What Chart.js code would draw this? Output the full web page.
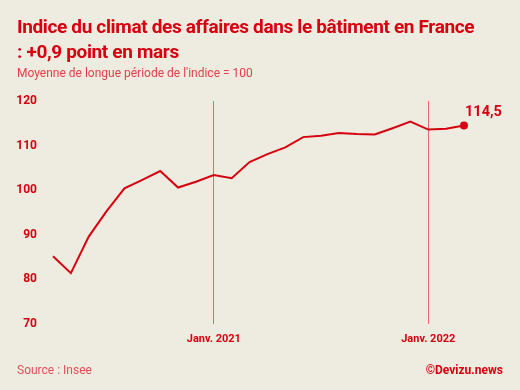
<!DOCTYPE html>
<html>
<head>
<meta charset="utf-8">
<script src="https://cdn.jsdelivr.net/npm/chart.js@4"></script>
<style>
  html, body { margin: 0; padding: 0; background: #eeebe0; }
  #wrap { position: relative; width: 520px; height: 390px; background: #eeebe0; overflow: hidden; font-family: Roboto, "Noto Sans", sans-serif; }
  canvas { position: absolute; left: 0; top: 0; }
  .t { position: absolute; left: 17px; color: #d7000f; font-weight: 700; font-size: 19px; line-height: 24px; white-space: nowrap; letter-spacing: -0.35px; }
  #sub { position: absolute; left: 17px; top: 66px; color: #e0404a; font-size: 12px; line-height: 14px; white-space: nowrap; }
  #src { position: absolute; left: 17px; top: 363px; color: #e0505a; font-size: 12px; line-height: 14px; }
  #cr { position: absolute; right: 17px; top: 363px; color: #d7000f; font-size: 12px; font-weight: 700; line-height: 14px; }
</style>
</head>
<body>
<div id="wrap">
  <canvas id="c" width="520" height="390"></canvas>
  <div class="t" style="top:15px">Indice du climat des affaires dans le bâtiment en France</div>
  <div class="t" style="top:40px">: +0,9 point en mars</div>
  <div id="sub">Moyenne de longue période de l'indice = 100</div>
  <div id="src">Source : Insee</div>
  <div id="cr">©Devizu.news</div>
</div>
<script>
const months = ["Avr. 2020","Mai 2020","Juin 2020","Juil. 2020","Août 2020","Sept. 2020","Oct. 2020","Nov. 2020","Déc. 2020",
  "Janv. 2021","Févr. 2021","Mars 2021","Avr. 2021","Mai 2021","Juin 2021","Juil. 2021","Août 2021","Sept. 2021","Oct. 2021","Nov. 2021","Déc. 2021",
  "Janv. 2022","Févr. 2022","Mars 2022"];
const indexValues = [85.2, 81.4, 89.6, 95.3, 100.4, 102.3, 104.3, 100.6, 101.9,
  103.4, 102.7, 106.3, 108.1, 109.6, 111.9, 112.2, 112.8, 112.6, 112.5, 113.9, 115.4,
  113.6, 113.8, 114.5];
const yTicks = [70, 80, 90, 100, 110, 120];
const lastLabel = "114,5";

const RED = "#d7000f";

const lastLabelPlugin = {
  id: "lastLabel",
  afterDatasetsDraw(chart) {
    const meta = chart.getDatasetMeta(0);
    const pt = meta.data[meta.data.length - 1];
    const ctx = chart.ctx;
    ctx.save();
    ctx.fillStyle = RED;
    ctx.font = "bold 14.5px Roboto";
    ctx.textAlign = "left";
    ctx.textBaseline = "alphabetic";
    ctx.fillText(lastLabel, pt.x + 1, pt.y - 10);
    ctx.restore();
  }
};

new Chart(document.getElementById("c"), {
  type: "line",
  data: {
    labels: months,
    datasets: [{
      data: indexValues,
      borderColor: RED,
      backgroundColor: RED,
      borderWidth: 2,
      tension: 0,
      pointRadius: ctx => ctx.dataIndex === indexValues.length - 1 ? 3 : 0,
      pointHoverRadius: 0
    }]
  },
  options: {
    responsive: false,
    animation: false,
    devicePixelRatio: 1,
    layout: { padding: { left: 0, right: 56, top: 101, bottom: 0 } },
    plugins: { legend: { display: false }, tooltip: { enabled: false } },
    scales: {
      x: {
        offset: false,
        border: { display: false },
        grid: {
          drawTicks: false,
          color: ctx => (ctx.tick && String(months[ctx.index]).startsWith("Janv.")) ? "rgba(215,0,15,0.55)" : "rgba(0,0,0,0)",
          lineWidth: 1
        },
        ticks: {
          autoSkip: false,
          maxRotation: 0,
          padding: 9,
          color: RED,
          font: { family: "Roboto", size: 11, weight: "bold" },
          callback: (v, i) => months[i].startsWith("Janv.") ? months[i] : ""
        },
        afterFit: s => { s.height = 66; }
      },
      y: {
        min: 70, max: 120,
        afterBuildTicks: s => { s.ticks = yTicks.map(v => ({ value: v })); },
        border: { display: false },
        grid: { display: false, drawTicks: false },
        ticks: {
          padding: 16,
          color: RED,
          font: { family: "Roboto", size: 12, weight: "bold" }
        },
        afterFit: s => { s.width = 53; }
      }
    }
  },
  plugins: [lastLabelPlugin]
});
</script>
</body>
</html>
